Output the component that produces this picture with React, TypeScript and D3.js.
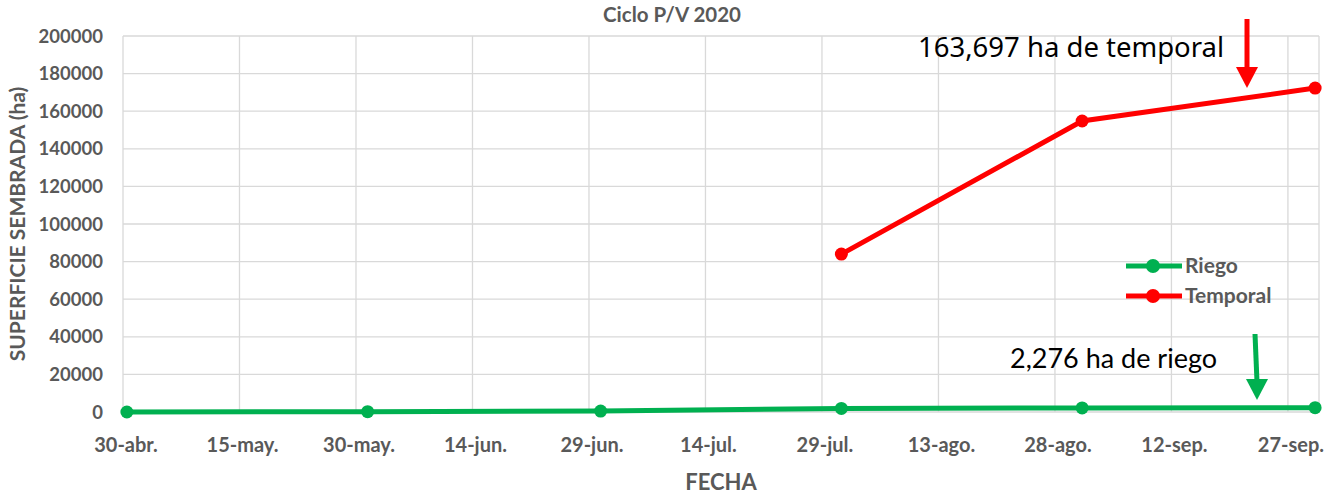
import React from "react";
import * as d3 from "d3";

// report dates and sown surface (ha)
const dates = ["2020-04-30", "2020-05-31", "2020-06-30", "2020-07-31", "2020-08-31", "2020-09-30"];
const riego = [0, 150, 500, 1900, 2150, 2276];
const temporal = [null, null, null, 84000, 154800, 172300];
const tickLabels = ["30-abr.", "15-may.", "30-may.", "14-jun.", "29-jun.", "14-jul.", "29-jul.", "13-ago.", "28-ago.", "12-sep.", "27-sep."];
const yTicks = [0, 20000, 40000, 60000, 80000, 100000, 120000, 140000, 160000, 180000, 200000];

const W = 1340, H = 495;
const left = 123, right = 1319, top = 36, bottom = 412;
const GRAY = "#595959";
const FONT = "Lato, 'Open Sans', sans-serif";
const GREEN = "#00B050", RED = "#FF0000";

const parse = d3.timeParse("%Y-%m-%d");

export default function App() {
  const start = parse("2020-04-30")!;
  const x = d3.scaleTime().domain([start, d3.timeDay.offset(start, 154)]).range([left, right]);
  const y = d3.scaleLinear().domain([0, 200000]).range([bottom, top]);

  const tickDates = tickLabels.map((_, i) => d3.timeDay.offset(start, i * 15));
  // points sit in the middle of their day
  const px = (s: string) => x(d3.timeHour.offset(parse(s)!, 12));

  const line = d3
    .line<[string, number | null]>()
    .defined((d) => d[1] != null)
    .x((d) => px(d[0]))
    .y((d) => y(d[1] as number));

  const riegoPts = dates.map((d, i) => [d, riego[i]] as [string, number | null]);
  const tempPts = dates.map((d, i) => [d, temporal[i]] as [string, number | null]);

  return (
    <svg width={W} height={H} style={{ position: "absolute", left: 0, top: 0, background: "#fff" }}>
      <text x={672} y={22} textAnchor="middle" fontFamily={FONT} fontWeight="bold" fontSize={20.5} fill={GRAY}>
        Ciclo P/V 2020
      </text>

      {/* grid */}
      {yTicks.map((t) => (
        <line key={"h" + t} x1={left} x2={right} y1={y(t)} y2={y(t)} stroke="#d9d9d9" strokeWidth={1.3} />
      ))}
      {tickDates.map((d, i) => (
        <line key={"v" + i} x1={x(d)} x2={x(d)} y1={top} y2={bottom} stroke="#d9d9d9" strokeWidth={1.3} />
      ))}
      <line x1={right} x2={right} y1={top} y2={bottom} stroke="#d9d9d9" strokeWidth={1.3} />

      {/* y tick labels */}
      {yTicks.map((t) => (
        <text key={"yl" + t} x={103} y={y(t) + 6.5} textAnchor="end" fontFamily={FONT} fontWeight="bold" fontSize={18.5} fill={GRAY}>
          {t}
        </text>
      ))}
      {/* x tick labels */}
      {tickDates.map((d, i) => (
        <text key={"xl" + i} x={x(d) + 3} y={452} textAnchor="middle" fontFamily={FONT} fontWeight="bold" fontSize={20} fill={GRAY}>
          {tickLabels[i]}
        </text>
      ))}

      <text transform={`translate(25,224) rotate(-90)`} textAnchor="middle" fontFamily={FONT} fontWeight="bold" fontSize={21} fill={GRAY}>
        SUPERFICIE SEMBRADA (ha)
      </text>
      <text x={721} y={490} textAnchor="middle" fontFamily={FONT} fontWeight="bold" fontSize={22} fill={GRAY}>
        FECHA
      </text>

      {/* series */}
      <path d={line(riegoPts) || ""} fill="none" stroke={GREEN} strokeWidth={5} />
      {riegoPts.map((d, i) => (
        <circle key={"rg" + i} cx={px(d[0])} cy={y(d[1] as number)} r={6.5} fill={GREEN} />
      ))}
      <path d={line(tempPts) || ""} fill="none" stroke={RED} strokeWidth={5} />
      {tempPts.filter((d) => d[1] != null).map((d, i) => (
        <circle key={"tp" + i} cx={px(d[0])} cy={y(d[1] as number)} r={6.5} fill={RED} />
      ))}

      {/* legend */}
      <g fontFamily={FONT} fontWeight="bold" fontSize={21} fill={GRAY}>
        <line x1={1126} x2={1182} y1={266} y2={266} stroke={GREEN} strokeWidth={5} />
        <circle cx={1153} cy={266} r={7} fill={GREEN} />
        <text x={1185} y={273}>Riego</text>
        <line x1={1126} x2={1182} y1={296} y2={296} stroke={RED} strokeWidth={5} />
        <circle cx={1153} cy={296} r={7} fill={RED} />
        <text x={1185} y={303}>Temporal</text>
      </g>

      {/* annotations */}
      <text x={918} y={57} fontFamily="'Noto Sans', sans-serif" fontSize={27.5} fill="#000">
        163,697 ha de temporal
      </text>
      <line x1={1247} x2={1247} y1={19} y2={70} stroke={RED} strokeWidth={5} />
      <polygon points="1236,67 1258,67 1247,88" fill={RED} />

      <text x={1010} y={368} fontFamily={FONT} fontSize={27} fill="#000">
        2,276 ha de riego
      </text>
      <line x1={1255} x2={1257} y1={334} y2={382} stroke={GREEN} strokeWidth={5} />
      <polygon points="1246,379 1268,379 1257,400" fill={GREEN} />
    </svg>
  );
}
